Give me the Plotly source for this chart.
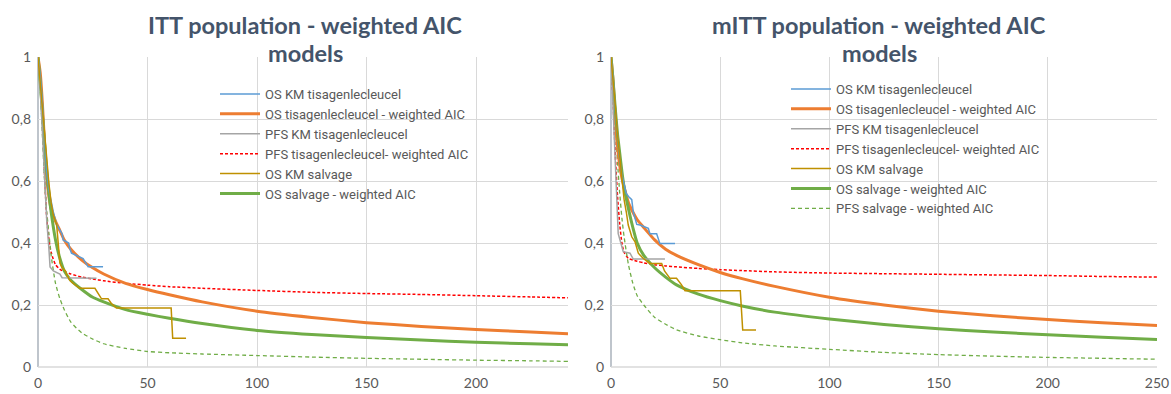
import plotly.graph_objects as go

# ---------------- ITT (left) ----------------
itt_os_km_tisa_t = [0, 1, 2, 3, 4, 5, 6, 7, 8.5, 11, 11.5, 14, 14.5, 15.3, 20.6, 22.9, 29.7]
itt_os_km_tisa_s = [1, 0.94, 0.85, 0.73, 0.63, 0.57, 0.53, 0.50, 0.46, 0.43, 0.41, 0.40, 0.383, 0.367, 0.35, 0.323, 0.323]

itt_pfs_km_tisa_t = [0, 1, 2, 3, 4, 5, 5.5, 7, 10, 11, 26.7]
itt_pfs_km_tisa_s = [1, 0.9, 0.76, 0.6, 0.47, 0.38, 0.323, 0.31, 0.30, 0.288, 0.286]

itt_os_km_salv_t = [0, 1, 2, 3, 4, 5, 6, 7, 8.5, 10, 11, 12.5, 13, 14.5, 16, 19, 26, 27.4, 29, 32, 33.5, 35.8, 60.8, 61.5, 67.6]
itt_os_km_salv_s = [1, 0.92, 0.83, 0.74, 0.66, 0.59, 0.53, 0.49, 0.46, 0.335, 0.32, 0.31, 0.30, 0.28, 0.27, 0.254, 0.254, 0.237, 0.22, 0.22, 0.205, 0.19, 0.19, 0.093, 0.093]

itt_fit_t = [0, 1, 2, 3, 4, 5, 6, 8, 10, 12, 15, 20, 25, 30, 40, 50, 60, 75, 100, 125, 150, 175, 200, 225, 242]
itt_os_tisa_fit = [1, 0.95, 0.85, 0.72, 0.61, 0.55, 0.51, 0.47, 0.44, 0.41, 0.38, 0.345, 0.32, 0.30, 0.27, 0.25, 0.233, 0.21, 0.18, 0.16, 0.143, 0.131, 0.121, 0.113, 0.107]
itt_pfs_tisa_fit = [1, 0.93, 0.80, 0.62, 0.48, 0.41, 0.37, 0.33, 0.315, 0.308, 0.30, 0.29, 0.284, 0.278, 0.27, 0.264, 0.259, 0.254, 0.247, 0.241, 0.237, 0.234, 0.230, 0.226, 0.223]
itt_os_salv_fit = [1, 0.92, 0.82, 0.72, 0.63, 0.56, 0.50, 0.41, 0.35, 0.31, 0.28, 0.25, 0.225, 0.21, 0.185, 0.17, 0.157, 0.14, 0.118, 0.105, 0.095, 0.087, 0.080, 0.075, 0.072]
itt_pfs_salv_fit = [1, 0.90, 0.75, 0.60, 0.50, 0.43, 0.36, 0.27, 0.22, 0.185, 0.145, 0.11, 0.09, 0.075, 0.06, 0.05, 0.046, 0.042, 0.037, 0.032, 0.028, 0.025, 0.022, 0.020, 0.018]

# ---------------- mITT (right) ----------------
mitt_os_km_tisa_t = [0, 1, 2, 3, 4, 5, 6, 7, 8, 9.5, 10.2, 11.8, 13.3, 17.1, 17.8, 20.9, 22.4, 29.3]
mitt_os_km_tisa_s = [1, 0.93, 0.83, 0.74, 0.67, 0.62, 0.59, 0.56, 0.55, 0.54, 0.50, 0.46, 0.458, 0.447, 0.43, 0.43, 0.398, 0.398]

mitt_pfs_km_tisa_t = [0, 1, 2, 3.3, 4.5, 5.6, 8.7, 10.2, 24.7]
mitt_pfs_km_tisa_s = [1, 0.82, 0.62, 0.43, 0.40, 0.372, 0.367, 0.348, 0.348]

mitt_os_km_salv_t = [0, 1, 2, 3, 4, 5, 6, 7, 7.9, 9.5, 11, 12.5, 14.8, 17.8, 23.2, 24.5, 27, 30, 32.3, 33.9, 59.2, 60.3, 66.4]
mitt_os_km_salv_s = [1, 0.93, 0.84, 0.75, 0.68, 0.60, 0.54, 0.50, 0.458, 0.42, 0.404, 0.367, 0.35, 0.334, 0.334, 0.31, 0.286, 0.286, 0.265, 0.246, 0.246, 0.119, 0.119]

mitt_fit_t = [0, 1, 2, 3, 4, 5, 6, 8, 10, 12, 15, 20, 25, 30, 40, 50, 60, 75, 100, 125, 150, 175, 200, 225, 250]
mitt_os_tisa_fit = [1, 0.92, 0.80, 0.71, 0.65, 0.61, 0.58, 0.53, 0.50, 0.475, 0.45, 0.41, 0.38, 0.36, 0.33, 0.305, 0.285, 0.26, 0.225, 0.20, 0.18, 0.165, 0.153, 0.143, 0.134]
mitt_pfs_tisa_fit = [1, 0.85, 0.68, 0.55, 0.46, 0.40, 0.37, 0.35, 0.345, 0.341, 0.336, 0.33, 0.326, 0.323, 0.318, 0.314, 0.311, 0.307, 0.303, 0.301, 0.299, 0.297, 0.295, 0.292, 0.29]
mitt_os_salv_fit = [1, 0.92, 0.83, 0.75, 0.69, 0.63, 0.58, 0.51, 0.45, 0.40, 0.36, 0.32, 0.29, 0.265, 0.235, 0.214, 0.197, 0.177, 0.155, 0.137, 0.123, 0.113, 0.104, 0.096, 0.089]
mitt_pfs_salv_fit = [1, 0.90, 0.78, 0.66, 0.56, 0.48, 0.42, 0.33, 0.27, 0.23, 0.20, 0.16, 0.138, 0.12, 0.10, 0.088, 0.078, 0.068, 0.057, 0.047, 0.040, 0.035, 0.031, 0.028, 0.025]

legend_names = [
    "OS KM tisagenlecleucel",
    "OS tisagenlecleucel - weighted AIC",
    "PFS KM tisagenlecleucel",
    "PFS tisagenlecleucel- weighted AIC",
    "OS KM salvage",
    "OS salvage - weighted AIC",
    "PFS salvage - weighted AIC",
]
titles = ["ITT population - weighted AIC", "mITT population - weighted AIC"]
title_line2 = "models"

C_BLUE = "#5B9BD5"
C_ORANGE = "#ED7D31"
C_GRAY = "#A5A5A5"
C_RED = "#FF0000"
C_GOLD = "#BF9000"
C_GREEN = "#70AD47"

FONT = "Lato"
LEG_FONT = "Roboto"
TXT = "#595959"

fig = go.Figure()


def add_panel(xa, ya, leg, data, show_pfs_salv_legend):
    (km_os_t, km_os_s, km_pfs_t, km_pfs_s, km_sv_t, km_sv_s,
     ft, os_fit, pfs_fit, sv_fit, pfs_sv_fit) = data
    sp = dict(shape="spline", smoothing=0.6)
    specs = [
        (km_os_t, km_os_s, legend_names[0], dict(color=C_BLUE, width=1.5), True),
        (ft, os_fit, legend_names[1], dict(color=C_ORANGE, width=3, **sp), True),
        (km_pfs_t, km_pfs_s, legend_names[2], dict(color=C_GRAY, width=1.5), True),
        (ft, pfs_fit, legend_names[3], dict(color=C_RED, width=1.5, dash="3px,2px", **sp), True),
        (km_sv_t, km_sv_s, legend_names[4], dict(color=C_GOLD, width=1.5), True),
        (ft, sv_fit, legend_names[5], dict(color=C_GREEN, width=3, **sp), True),
        (ft, pfs_sv_fit, legend_names[6], dict(color=C_GREEN, width=1.3, dash="4px,3px", **sp), show_pfs_salv_legend),
    ]
    order = [3, 6, 1, 5, 0, 2, 4]
    for i in order:
        x, y, name, line, sl = specs[i]
        fig.add_trace(go.Scatter(
            x=x, y=y, name=name, mode="lines", line=line,
            xaxis=xa, yaxis=ya, legend=leg, showlegend=sl,
            legendrank=i + 1, legendgroup=leg + str(i),
        ))


add_panel("x", "y", "legend",
          (itt_os_km_tisa_t, itt_os_km_tisa_s, itt_pfs_km_tisa_t, itt_pfs_km_tisa_s,
           itt_os_km_salv_t, itt_os_km_salv_s, itt_fit_t, itt_os_tisa_fit,
           itt_pfs_tisa_fit, itt_os_salv_fit, itt_pfs_salv_fit), False)
add_panel("x2", "y2", "legend2",
          (mitt_os_km_tisa_t, mitt_os_km_tisa_s, mitt_pfs_km_tisa_t, mitt_pfs_km_tisa_s,
           mitt_os_km_salv_t, mitt_os_km_salv_s, mitt_fit_t, mitt_os_tisa_fit,
           mitt_pfs_tisa_fit, mitt_os_salv_fit, mitt_pfs_salv_fit), True)

W, H = 1171, 394
ytop, ybot = 57, 367
yd = [(H - ybot) / H, (H - ytop) / H]

axis_common = dict(
    showgrid=True, gridcolor="#D9D9D9", gridwidth=1,
    zeroline=False, ticks="", showline=False, automargin=False,
    tickfont=dict(family=FONT, size=14, color=TXT),
)
xaxis_extra = dict(ticklabelstandoff=6)
yaxis_extra = dict(ticklabelstandoff=6)

fig.update_layout(
    width=W, height=H,
    margin=dict(l=0, r=0, t=0, b=0, autoexpand=False),
    paper_bgcolor="white", plot_bgcolor="white",
    separators=", ",
    font=dict(family=FONT, color=TXT),
    xaxis=dict(domain=[38 / W, 568 / W], range=[0, 242], dtick=50, tick0=0, anchor="y", **axis_common, **xaxis_extra),
    yaxis=dict(domain=yd, range=[0, 1], dtick=0.2, anchor="x", **axis_common, **yaxis_extra),
    xaxis2=dict(domain=[611 / W, 1157 / W], range=[0, 250], dtick=50, tick0=0, anchor="y2", **axis_common, **xaxis_extra),
    yaxis2=dict(domain=yd, range=[0, 1], dtick=0.2, anchor="x2", **axis_common, **yaxis_extra),
    legend=dict(x=215 / W, y=(H - 79) / H, xanchor="left", yanchor="top",
                bgcolor="rgba(0,0,0,0)", font=dict(family=LEG_FONT, size=13, color=TXT),
                tracegroupgap=0, itemwidth=40),
    legend2=dict(x=786 / W, y=(H - 74) / H, xanchor="left", yanchor="top",
                 bgcolor="rgba(0,0,0,0)", font=dict(family=LEG_FONT, size=13, color=TXT),
                 tracegroupgap=0, itemwidth=40),
)

for xa, ya in (("x", "y"), ("x2", "y2")):
    fig.add_shape(type="line", xref=xa + " domain", yref=ya + " domain",
                  x0=0, x1=0, y0=0, y1=1, line=dict(color="#BFC5CC", width=2), layer="below")
    fig.add_shape(type="line", xref=xa + " domain", yref=ya + " domain",
                  x0=0, x1=1, y0=0, y1=0, line=dict(color="#D9D9D9", width=1.5), layer="below")

TITLE_C = "#44546A"
for cx, t in ((305 / W, titles[0]), (879 / W, titles[1])):
    fig.add_annotation(x=cx, y=(H - 25) / H, xref="paper", yref="paper", text="<b>%s</b>" % t,
                       showarrow=False, xanchor="center", yanchor="middle",
                       font=dict(family=FONT, size=23.5, color=TITLE_C))
    fig.add_annotation(x=cx, y=(H - 53) / H, xref="paper", yref="paper", text="<b>%s</b>" % title_line2,
                       showarrow=False, xanchor="center", yanchor="middle",
                       font=dict(family=FONT, size=23.5, color=TITLE_C))

fig.write_html("out.html")
